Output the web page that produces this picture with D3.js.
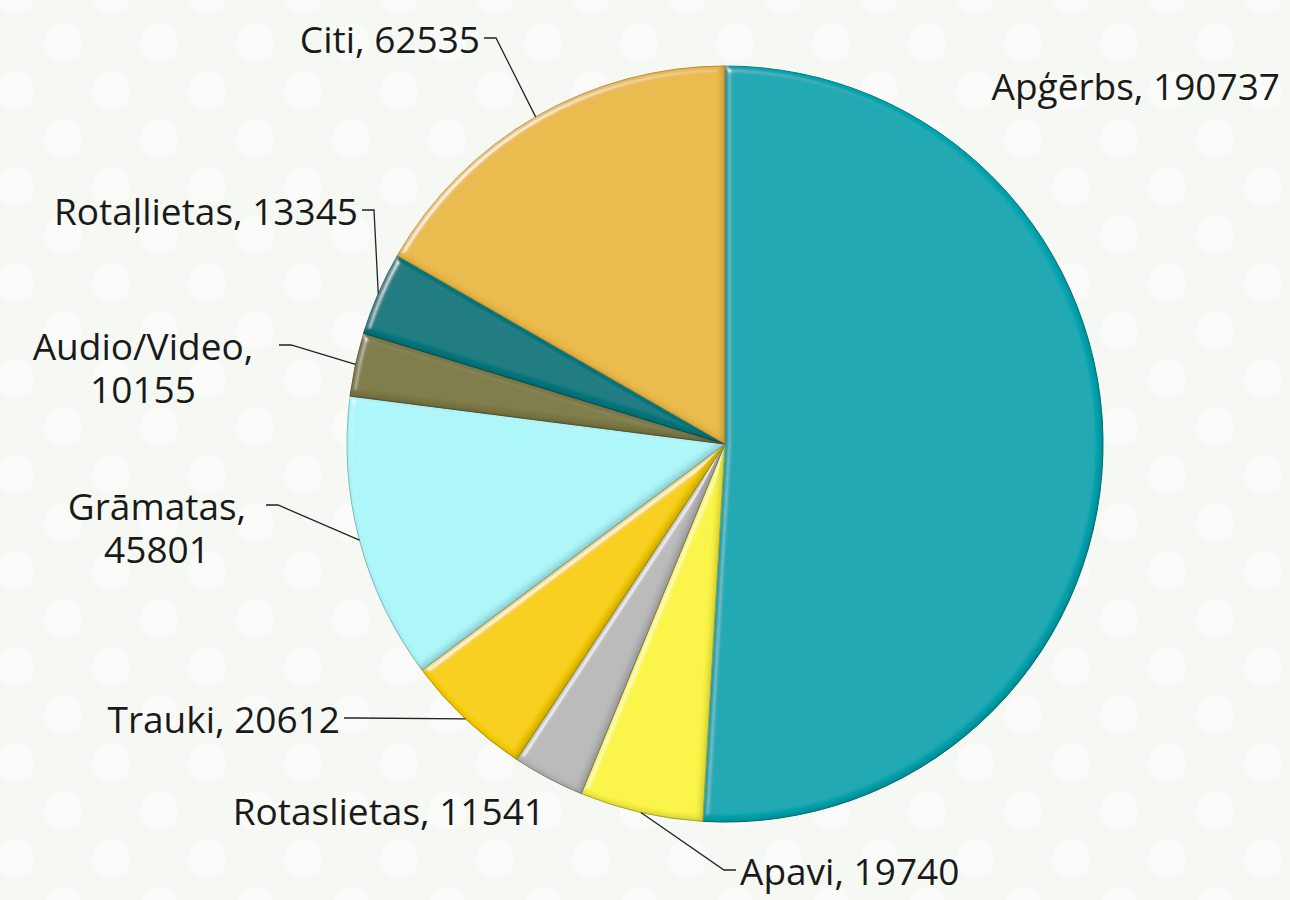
<html>
<head>
<meta charset="utf-8">
<script src="https://d3js.org/d3.v7.min.js"></script>
<style>
  body { margin: 0; background: #f6f9f3; }
  text { font-family: "Open Sans", sans-serif; font-size: 37px; fill: #1a1a1a; }
</style>
</head>
<body>
<svg id="chart" width="1290" height="900"></svg>
<script>
const categories = ["Apģērbs", "Apavi", "Rotaslietas", "Trauki", "Grāmatas", "Audio/Video", "Rotaļlietas", "Citi"];
const values = [190737, 19740, 11541, 20612, 45801, 10155, 13345, 62535];
const colors = ["#00a7b2", "#fbf544", "#b9b9b9", "#f8cf06", "#acf6f9", "#7e7a47", "#08797f", "#eab94a"];

// label placement: x, y (middle of first line), anchor, split in two lines?, leader?
const labelPos = [
  {x: 1280, y: 85, anchor: "end", split: false, leader: false},
  {x: 740, y: 870, anchor: "start", split: false, leader: true},
  {x: 545, y: 810, anchor: "end", split: false, leader: false},
  {x: 340, y: 718, anchor: "end", split: false, leader: true},
  {x: 157, y: 505, anchor: "middle", split: true, leader: true, endX: 262},
  {x: 143, y: 345, anchor: "middle", split: true, leader: true, endX: 275},
  {x: 358, y: 210, anchor: "end", split: false, leader: true},
  {x: 480, y: 38, anchor: "end", split: false, leader: true}
];

const svg = d3.select("svg#chart");
const width = +svg.attr("width");
const height = +svg.attr("height");
const cx = 725, cy = 444, radius = 378;

// polka dot background
const defs = svg.append("defs");
const pat = defs.append("pattern").attr("id", "dots")
  .attr("width", 96).attr("height", 96).attr("patternUnits", "userSpaceOnUse")
  .attr("x", 15).attr("y", -5);
[[48, 48], [0, 0], [96, 0], [0, 96], [96, 96]].forEach(c => {
  pat.append("circle").attr("cx", c[0]).attr("cy", c[1]).attr("r", 19)
    .attr("fill", "#ffffff").attr("opacity", 0.55);
});
svg.append("rect").attr("width", width).attr("height", height).attr("fill", "#f6f9f3");
svg.append("rect").attr("width", width).attr("height", height).attr("fill", "url(#dots)");

// bevel filter
const f = defs.append("filter").attr("id", "bevel").attr("x", "-5%").attr("y", "-5%").attr("width", "110%").attr("height", "110%");
f.append("feGaussianBlur").attr("in", "SourceAlpha").attr("stdDeviation", 3).attr("result", "blur");
const spec = f.append("feSpecularLighting").attr("in", "blur").attr("surfaceScale", 5)
  .attr("specularConstant", 0.8).attr("specularExponent", 30).attr("lighting-color", "#ffffff").attr("result", "spec");
spec.append("feDistantLight").attr("azimuth", 225).attr("elevation", 32);
f.append("feComposite").attr("in", "spec").attr("in2", "SourceAlpha").attr("operator", "in").attr("result", "specOut");
f.append("feOffset").attr("in", "blur").attr("dx", -3).attr("dy", -3).attr("result", "offBlur");
f.append("feComposite").attr("in", "SourceAlpha").attr("in2", "offBlur").attr("operator", "out").attr("result", "edge");
f.append("feFlood").attr("flood-color", "#000").attr("flood-opacity", 0.4).attr("result", "dark");
f.append("feComposite").attr("in", "dark").attr("in2", "edge").attr("operator", "in").attr("result", "shadow");
const fm = f.append("feMerge");
fm.append("feMergeNode").attr("in", "SourceGraphic");
fm.append("feMergeNode").attr("in", "shadow");
fm.append("feMergeNode").attr("in", "specOut");

const pie = d3.pie().sort(null).value(d => d);
const arcs = pie(values);
const arc = d3.arc().innerRadius(0).outerRadius(radius);

const layer = svg.append("g").attr("transform", `translate(${cx},${cy})`);
layer.selectAll("path.slice").data(arcs)
  .join("path")
  .attr("class", "slice")
  .attr("d", arc)
  .attr("fill", (d, i) => colors[i])
  .attr("stroke", (d, i) => d3.color(colors[i]).darker(0.7))
  .attr("stroke-width", 1)
  .attr("filter", "url(#bevel)");

// leaders
const lines = svg.append("g");
arcs.forEach((d, i) => {
  const p = labelPos[i];
  if (!p.leader) return;
  const a = (d.startAngle + d.endAngle) / 2;
  const ex = cx + radius * Math.sin(a), ey = cy - radius * Math.cos(a);
  let sx, dir;
  if (p.anchor === "start") { sx = p.x - 4; dir = -1; }
  else if (p.anchor === "end") { sx = p.x + 4; dir = 1; }
  else { sx = p.endX + 4; dir = 1; }
  lines.append("path")
    .attr("d", d3.line()([[sx, p.y], [sx + dir * 12, p.y], [ex, ey]]))
    .attr("fill", "none").attr("stroke", "#222").attr("stroke-width", 1.3);
});

// labels
const labels = svg.append("g");
arcs.forEach((d, i) => {
  const p = labelPos[i];
  const lns = p.split ? [categories[i] + ",", String(values[i])] : [categories[i] + ", " + values[i]];
  lns.forEach((s, k) => {
    labels.append("text")
      .attr("x", p.x).attr("y", p.y + k * 43)
      .attr("text-anchor", p.anchor)
      .attr("dominant-baseline", "central")
      .text(s);
  });
});
</script>
</body>
</html>
